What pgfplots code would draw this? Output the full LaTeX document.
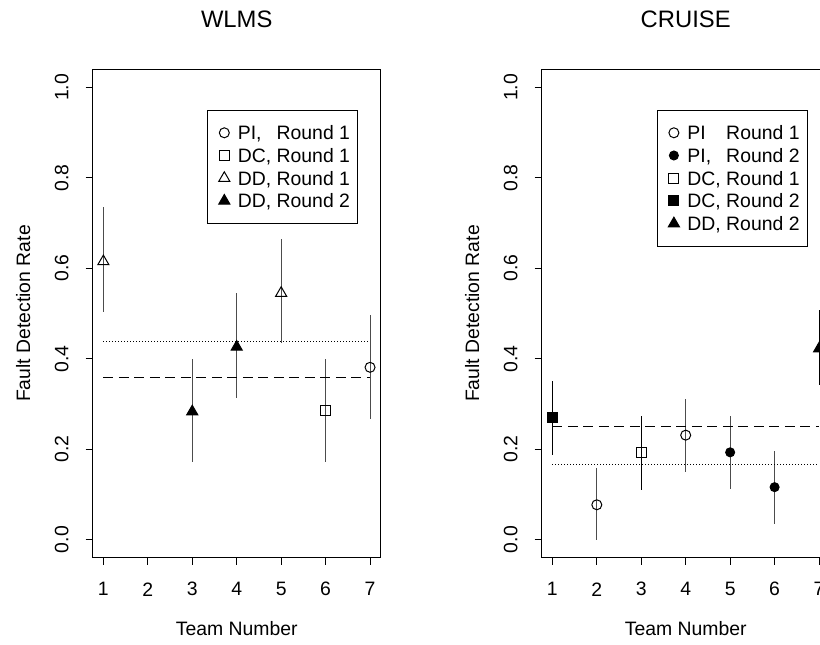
\documentclass[border=0pt]{standalone}
\usepackage{fontspec}
\setmainfont{Liberation Sans}
\usepackage{pgfplots}
\pgfplotsset{compat=1.18}

\pgfplotsset{
  rpanel/.style={
    width=144pt, height=244.2pt, scale only axis,
    font=\fontsize{9.7}{11.6}\selectfont,
    xmin=0.76, xmax=7.24, ymin=-0.04, ymax=1.04,
    xtick={1,2,3,4,5,6,7}, ytick={0,0.2,0.4,0.6,0.8,1},
    tick pos=left, tick align=outside, major tick length=3.5pt,
    every tick/.style={black, line width=0.5pt},
    axis line style={line width=0.5pt},
    /pgf/number format/assume math mode=true,
    xticklabel style={anchor=center},
    yticklabel style={anchor=center, rotate=90,
      /pgf/number format/.cd, fixed, fixed zerofill, precision=1},
    xticklabel shift=12.3pt, yticklabel shift=12pt,
    every axis x label/.style={at={(axis description cs:0.5,-0.146)}, anchor=center},
    every axis y label/.style={at={(axis description cs:-0.241,0.5)}, anchor=center, rotate=90},
    every axis title/.style={at={(axis description cs:0.5,1.086)}, anchor=base,
      font=\fontsize{11.9}{14}\selectfont},
    xlabel={Team Number}, ylabel={Fault Detection Rate},
    legend image code/.code={\path (-4.15pt,0pt); \draw[#1] plot coordinates {(0pt,0pt)};},
    legend cell align=left,
    legend style={anchor=north west, draw=black, line width=0.5pt, fill=white,
      inner xsep=3.85pt, inner ysep=5.55pt, row sep=0pt, column sep=4pt,
      font=\fontsize{9.7}{11.35}\selectfont,
      nodes={inner sep=0pt, text height=9.15pt, text depth=2.2pt}},
  },
  errb/.style={error bars/.cd, y dir=both, y explicit, error mark=none,
    error bar style={line width=0.5pt, #1}},
  meanline/.style={black, line width=0.5pt, forget plot},
}

\begin{document}
\begin{tikzpicture}
\useasboundingbox (0pt,0pt) rectangle (410pt,322pt);

% WLMS
\begin{axis}[rpanel, at={(46.35pt,43.15pt)}, anchor=south west,
  title={WLMS}, legend style={at={(0.398,0.917)}}]
\addplot[only marks, mark=o, mark size=2.5pt, black, line width=0.5pt, errb={black!70}]
  table[x=x, y=y, y error plus=ep, y error minus=em] {
x y ep em
7 0.381 0.116 0.114
};
\addlegendentry{\makebox[1.722em][l]{PI,} Round 1}
\addplot[only marks, mark=square, mark size=2.5pt, black, line width=0.5pt, errb={black!70}]
  table[x=x, y=y, y error plus=ep, y error minus=em] {
x y ep em
6 0.286 0.114 0.115
};
\addlegendentry{DC, Round 1}
\addplot[only marks, mark=triangle, mark size=3.2pt, black, line width=0.5pt, errb={black!70}]
  table[x=x, y=y, y error plus=ep, y error minus=em] {
x y ep em
1 0.615 0.120 0.111
5 0.545 0.119 0.111
};
\addlegendentry{DD, Round 1}
\addplot[only marks, mark=triangle*, mark size=3.2pt, black, line width=0.5pt, errb={black!70}]
  table[x=x, y=y, y error plus=ep, y error minus=em] {
x y ep em
3 0.283 0.117 0.112
4 0.426 0.119 0.112
};
\addlegendentry{DD, Round 2}
\addplot[meanline, dash pattern=on 0.5pt off 1pt] coordinates {(1,0.438) (7,0.438)};
\addplot[meanline, dash pattern=on 5pt off 2.75pt] coordinates {(1,0.358) (7,0.358)};
\end{axis}

% CRUISE
\begin{axis}[rpanel, at={(270.85pt,43.15pt)}, anchor=south west,
  title={CRUISE}, legend style={at={(0.400,0.917)}}]
\addplot[only marks, mark=o, mark size=2.5pt, black, line width=0.5pt, errb={black!70}]
  table[x=x, y=y, y error plus=ep, y error minus=em] {
x y ep em
2 0.077 0.081 0.077
4 0.231 0.081 0.081
};
\addlegendentry{\makebox[1.722em][l]{PI} Round 1}
\addplot[only marks, mark=*, mark size=2.25pt, black, line width=0.5pt, errb={black!70}]
  table[x=x, y=y, y error plus=ep, y error minus=em] {
x y ep em
5 0.193 0.081 0.081
6 0.116 0.081 0.081
};
\addlegendentry{\makebox[1.722em][l]{PI,} Round 2}
\addplot[only marks, mark=square, mark size=2.5pt, black, line width=0.5pt, errb={black}]
  table[x=x, y=y, y error plus=ep, y error minus=em] {
x y ep em
3 0.193 0.081 0.083
};
\addlegendentry{DC, Round 1}
\addplot[only marks, mark=square*, mark size=2.5pt, black, line width=0.5pt, errb={black}]
  table[x=x, y=y, y error plus=ep, y error minus=em] {
x y ep em
1 0.270 0.081 0.082
};
\addlegendentry{DC, Round 2}
\addplot[only marks, mark=triangle*, mark size=3.2pt, black, line width=0.5pt, errb={black}]
  table[x=x, y=y, y error plus=ep, y error minus=em] {
x y ep em
7 0.422 0.085 0.080
};
\addlegendentry{DD, Round 2}
\addplot[meanline, dash pattern=on 5pt off 2.75pt] coordinates {(1,0.250) (7,0.250)};
\addplot[meanline, dash pattern=on 0.5pt off 1pt] coordinates {(1,0.167) (7,0.167)};
\end{axis}
\end{tikzpicture}
\end{document}
